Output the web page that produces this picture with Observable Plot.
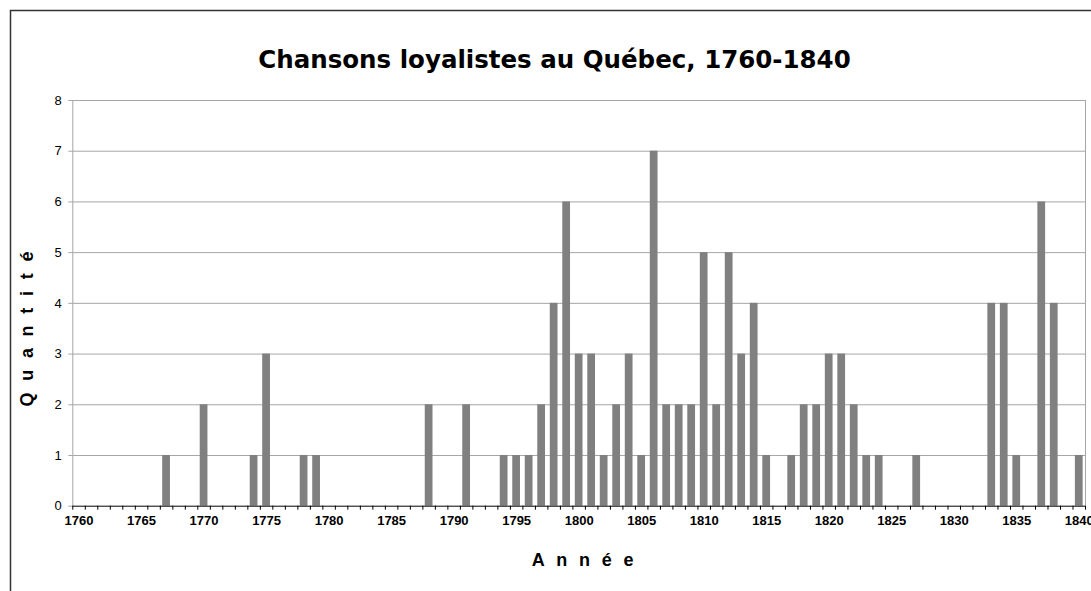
<!DOCTYPE html>
<html>
<head>
<meta charset="utf-8">
<script src="https://cdn.jsdelivr.net/npm/d3@7"></script>
<script src="https://cdn.jsdelivr.net/npm/@observablehq/plot@0.6"></script>
<style>
  html, body { margin: 0; padding: 0; background: #fff; }
  #chart svg { display: block; }
  #chart [aria-label="y-axis tick label"], #chart [aria-label="y-axis tick label"] text {
    font-size: 13px !important; font-family: 'Liberation Sans', Arial, sans-serif !important;
  }
  #chart [aria-label="x-axis tick label"], #chart [aria-label="x-axis tick label"] text {
    font-size: 13px !important; font-weight: bold !important; font-family: 'Liberation Sans', Arial, sans-serif !important;
  }
</style>
</head>
<body>
<div id="chart"></div>
<script>
// Years with at least one song (all other years 1760-1840 have 0)
const songYears = [1767, 1770, 1774, 1775, 1778, 1779, 1788, 1791, 1794, 1795,
  1796, 1797, 1798, 1799, 1800, 1801, 1802, 1803, 1804, 1805,
  1806, 1807, 1808, 1809, 1810, 1811, 1812, 1813, 1814, 1815,
  1817, 1818, 1819, 1820, 1821, 1822, 1823, 1824, 1827, 1833,
  1834, 1835, 1837, 1838, 1840];
const songCounts = [1, 2, 1, 3, 1, 1, 2, 2, 1, 1,
  1, 2, 4, 6, 3, 3, 1, 2, 3, 1,
  7, 2, 2, 2, 5, 2, 5, 3, 4, 1,
  1, 2, 2, 3, 3, 2, 1, 1, 1, 4,
  4, 1, 6, 4, 1];
const xTickLabels = [1760, 1765, 1770, 1775, 1780, 1785, 1790, 1795, 1800,
  1805, 1810, 1815, 1820, 1825, 1830, 1835, 1840];
const yTicks = [0, 1, 2, 3, 4, 5, 6, 7, 8];
const firstYear = 1760, lastYear = 1840;

const title = "Chansons loyalistes au Québec, 1760-1840";
const xTitle = "Année";
const yTitle = "Quantité";

const rows = songYears.map((year, i) => ({year, count: songCounts[i]}));
const boundaries = d3.range(firstYear - 0.5, lastYear + 1, 1);
const halfBar = 0.31;
const gridColor = "#a6a6a6";

const svg = Plot.plot({
  width: 1091,
  height: 591,
  marginLeft: 72.3,
  marginRight: 6,
  marginTop: 100,
  marginBottom: 85.3,
  style: {fontFamily: "'Liberation Sans', Arial, sans-serif", fontSize: "13px", color: "black", background: "white"},
  x: {type: "linear", domain: [firstYear - 0.5, lastYear + 0.5], label: null},
  y: {domain: [0, 8], label: null},
  marks: [
    Plot.gridY({ticks: yTicks.slice(1), stroke: gridColor, strokeOpacity: 1}),
    Plot.ruleX([firstYear - 0.5, lastYear + 0.5], {stroke: gridColor}),
    Plot.rectY(rows, {x1: d => d.year - halfBar, x2: d => d.year + halfBar, y1: 0, y2: "count", fill: "#808080"}),
    Plot.ruleY([0], {stroke: "black"}),
    Plot.axisY({ticks: yTicks, tickSize: 4, tickPadding: 7, stroke: gridColor, fill: "black", fontSize: 13, label: null}),
    Plot.axisX({ticks: boundaries, tickSize: 4, tickFormat: () => "", stroke: "black", label: null, ariaLabel: "x-axis boundary tick"}),
    Plot.axisX({ticks: xTickLabels, tickSize: 0, tickPadding: 10, tickFormat: d => String(d), fontWeight: "bold", fontSize: 13, fill: "black", label: null})
  ]
});

const s = d3.select(svg);
s.append("rect")
  .attr("x", 10.5).attr("y", 10.5).attr("width", 1200).attr("height", 700)
  .attr("fill", "none").attr("stroke", "#333").attr("stroke-width", 1.5);

s.append("text")
  .attr("x", 554.5).attr("y", 68)
  .attr("text-anchor", "middle")
  .style("font-family", "'DejaVu Sans', Verdana, sans-serif")
  .style("font-weight", "bold")
  .style("font-size", "24.5px")
  .attr("fill", "black")
  .text(title);

s.append("text")
  .attr("x", 588.4).attr("y", 565.7)
  .attr("text-anchor", "middle")
  .style("font-family", "'Liberation Sans', Arial, sans-serif")
  .style("font-weight", "bold")
  .style("font-size", "18px")
  .style("letter-spacing", "11.7px")
  .attr("fill", "black")
  .text(xTitle);

s.append("text")
  .attr("transform", "translate(32.5,323.2) rotate(-90)")
  .attr("text-anchor", "middle")
  .style("font-family", "'Liberation Sans', Arial, sans-serif")
  .style("font-weight", "bold")
  .style("font-size", "18px")
  .style("letter-spacing", "11.7px")
  .attr("fill", "black")
  .text(yTitle);

document.getElementById("chart").appendChild(svg);
</script>
</body>
</html>
